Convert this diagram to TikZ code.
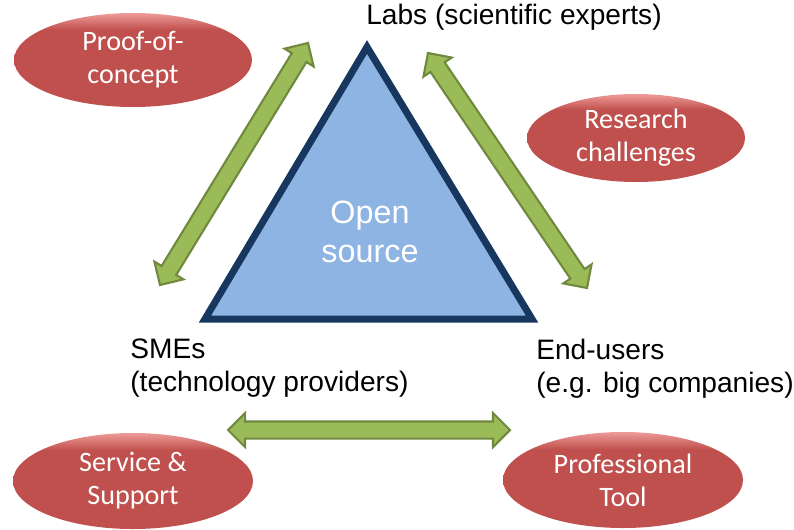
\documentclass[tikz,border=0pt]{standalone}
\usepackage{fontspec}
\setmainfont{Liberation Sans}
\newfontfamily\bubblefont{Carlito}
\usetikzlibrary{shapes.geometric}
\usetikzlibrary{shapes.arrows}
\usetikzlibrary{calc}
\definecolor{bubblered}{HTML}{C0504D}
\definecolor{bubblelight}{HTML}{EE9B98}
\definecolor{arrowgreen}{HTML}{9BBB59}
\definecolor{arrowdark}{HTML}{71893F}
\definecolor{triblue}{HTML}{8EB4E3}
\definecolor{trinavy}{HTML}{17375E}
\pgfdeclareverticalshading{bubbleshade}{100bp}{color(0bp)=(bubblered); color(25bp)=(bubblered); color(66bp)=(bubblered); color(75bp)=(bubblelight); color(100bp)=(bubblelight)}
\tikzset{bubble/.style = {ellipse, shading=bubbleshade, text=white, align=center, inner sep=0, font=\bubblefont\fontsize{16}{18.8}\selectfont}}
\tikzset{fatarrow/.style = {double arrow, fill=arrowgreen, draw=arrowdark, line width=1.2pt, minimum width=0.64cm, double arrow head extend=0.17cm, inner xsep=0, inner ysep=0.15cm}}
\tikzset{actor/.style = {align=left, inner sep=0, font=\fontsize{16}{18.8}\selectfont}}

\begin{document}
\begin{tikzpicture}
    \useasboundingbox (0, 0) rectangle (15.88, 10.58);

    % triangle
    \coordinate (apex) at (7.34, 9.64);
    \coordinate (baseL) at (4.10, 4.20);
    \coordinate (baseR) at (10.64, 4.20);
    \draw [fill=triblue, draw=trinavy, line width=0.14cm, line join=miter] (apex) -- (baseL) -- (baseR) -- cycle;
    \node [text=white, align=center, inner sep=0, font=\fontsize{18.4}{22.2}\selectfont] (core) at (7.40, 5.94) {Open\\source};

    % actors
    \node [actor] (labs) at (10.28, 10.24) {Labs (scientific experts)};
    \node [actor, anchor=west] (smes) at (2.60, 3.21) {SMEs\\(technology providers)};
    \node [actor, anchor=west] (users) at (10.72, 3.21) {End-users\\(e.g. big companies)};

    % bubbles
    \node [bubble, minimum width=4.76cm, minimum height=1.88cm] (proof) at (2.66, 9.38) {Proof-of-\\concept};
    \node [bubble, minimum width=4.36cm, minimum height=1.76cm] (research) at (12.72, 7.82) {Research\\challenges};
    \node [bubble, minimum width=4.80cm, minimum height=1.92cm] (service) at (2.66, 0.96) {Service \&\\Support};
    \node [bubble, minimum width=4.80cm, minimum height=1.92cm] (tool) at (12.46, 0.98) {Professional\\Tool};

    % arrows
    \coordinate (sme1) at (3.20, 4.88);
    \coordinate (lab1) at (6.16, 9.72);
    \coordinate (lab2) at (8.56, 9.52);
    \coordinate (end1) at (11.74, 4.82);
    \coordinate (sme2) at (4.56, 1.98);
    \coordinate (end2) at (10.20, 1.98);
    \foreach \a/\b in {sme1/lab1, lab2/end1, sme2/end2}
      \path let \p1 = ($(\b) - (\a)$) in
        node [fatarrow, minimum height={veclen(\x1, \y1)}, rotate={atan2(\y1, \x1)}] at ($(\a)!0.5!(\b)$) {};

  \end{tikzpicture}
\end{document}
